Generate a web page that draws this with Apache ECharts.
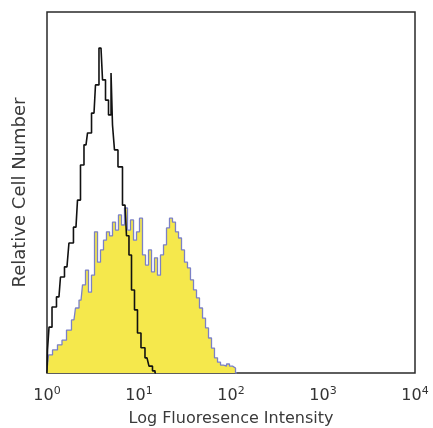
<!DOCTYPE html>
<html>
<head>
<meta charset="utf-8">
<script src="https://cdn.jsdelivr.net/npm/echarts@6/dist/echarts.min.js"></script>
<style>
  html, body { margin: 0; padding: 0; background: #fff; }
  #chart { width: 433px; height: 428px; }
</style>
</head>
<body>
<div id="chart"></div>
<script>
// x positions are in decades (log10 of fluorescence), y is relative count 0-100
var xTicks = [0, 1, 2, 3, 4];

var controlLog = [0, 0.011, 0.033, 0.076, 0.13, 0.163, 0.217, 0.26, 0.315, 0.348, 0.38, 0.424, 0.457,
  0.511, 0.543, 0.587, 0.62, 0.652, 0.685, 0.707, 0.717, 0.75, 0.793, 0.848, 0.88, 0.902, 0.935,
  0.967, 1.0, 1.043, 1.087, 1.13, 1.163, 1.185];
var controlCount = [0, 6.4, 12.7, 18.3, 21.1, 26.6, 29.4, 36.0, 40.4, 47.9, 57.6, 63.2, 66.5,
  72.0, 79.8, 90.0, 81.2, 75.6, 71.5, 83.1, 68.7, 61.8, 57.1, 46.5, 38.0, 32.7, 23.0,
  17.5, 11.1, 7.0, 4.2, 1.9, 0.6, 0];

var stainedLog = [0, 0.033, 0.087, 0.141, 0.185, 0.239, 0.293, 0.326, 0.37, 0.402, 0.435, 0.467,
  0.5, 0.533, 0.565, 0.598, 0.63, 0.663, 0.696, 0.728, 0.761, 0.793, 0.826, 0.859, 0.891, 0.924,
  0.957, 0.989, 1.022, 1.054, 1.087, 1.12, 1.152, 1.185, 1.217, 1.25, 1.283, 1.315, 1.348, 1.38,
  1.413, 1.446, 1.478, 1.511, 1.543, 1.576, 1.609, 1.641, 1.674, 1.707, 1.739, 1.772, 1.804,
  1.837, 1.87, 1.902, 1.935, 1.967, 2.0, 2.033, 2.065];
var stainedCount = [0.8, 5.0, 6.4, 7.8, 9.1, 11.9, 14.7, 18.0, 20.2, 24.4, 28.5, 22.4,
  27.1, 39.1, 30.7, 34.1, 36.8, 39.1, 38.0, 41.8, 39.6, 43.8, 41.0, 45.7, 39.6, 42.4,
  36.8, 39.1, 42.9, 32.7, 29.9, 34.1, 28.0, 31.9, 27.1, 32.7, 35.5, 40.2, 42.9, 41.8,
  39.1, 37.4, 34.1, 30.7, 29.1, 25.8, 23.0, 20.8, 18.0, 15.2, 12.5, 9.7, 6.9,
  4.2, 3.0, 2.2, 1.9, 2.5, 1.9, 1.4, 0];

function pairs(xs, ys) {
  return xs.map(function (x, i) { return [x, ys[i]]; });
}

var myChart = echarts.init(document.getElementById('chart'));
var option = {
  backgroundColor: '#fff',
  animation: false,
  grid: {
    left: 47, right: 18, top: 12, bottom: 55,
    outerBoundsMode: 'none',
    show: true, borderColor: '#2a2a2a', borderWidth: 1.5
  },
  xAxis: {
    type: 'value',
    min: xTicks[0], max: xTicks[xTicks.length - 1], interval: 1,
    name: 'Log Fluoresence Intensity',
    nameLocation: 'middle', nameGap: 38,
    nameTextStyle: { fontFamily: 'DejaVu Sans', fontSize: 16, color: '#3a3a3a' },
    axisLine: { show: false },
    axisTick: { show: false },
    splitLine: { show: false },
    axisLabel: {
      margin: 13,
      formatter: function (v) { return '10{sup|' + v + '}'; },
      fontFamily: 'DejaVu Sans', fontSize: 16, color: '#333',
      rich: { sup: { fontFamily: 'DejaVu Sans', fontSize: 11, color: '#333', verticalAlign: 'top', padding: [0, 0, 9, 0] } }
    }
  },
  yAxis: {
    type: 'value', min: 0, max: 100,
    name: 'Relative Cell Number',
    nameLocation: 'middle', nameGap: 18,
    nameTextStyle: { fontFamily: 'DejaVu Sans', fontSize: 18, color: '#3a3a3a' },
    axisLine: { show: false }, axisTick: { show: false },
    axisLabel: { show: false }, splitLine: { show: false }
  },
  series: [
    {
      type: 'line', step: 'middle', symbol: 'none',
      data: pairs(stainedLog, stainedCount),
      lineStyle: { color: '#7b80c6', width: 1.3 },
      areaStyle: { color: '#f5e84c', opacity: 1 },
      z: 2
    },
    {
      type: 'line', step: 'middle', symbol: 'none',
      data: pairs(controlLog, controlCount),
      lineStyle: { color: '#111', width: 1.6 },
      z: 3
    }
  ]
};
myChart.setOption(option);
</script>
</body>
</html>
